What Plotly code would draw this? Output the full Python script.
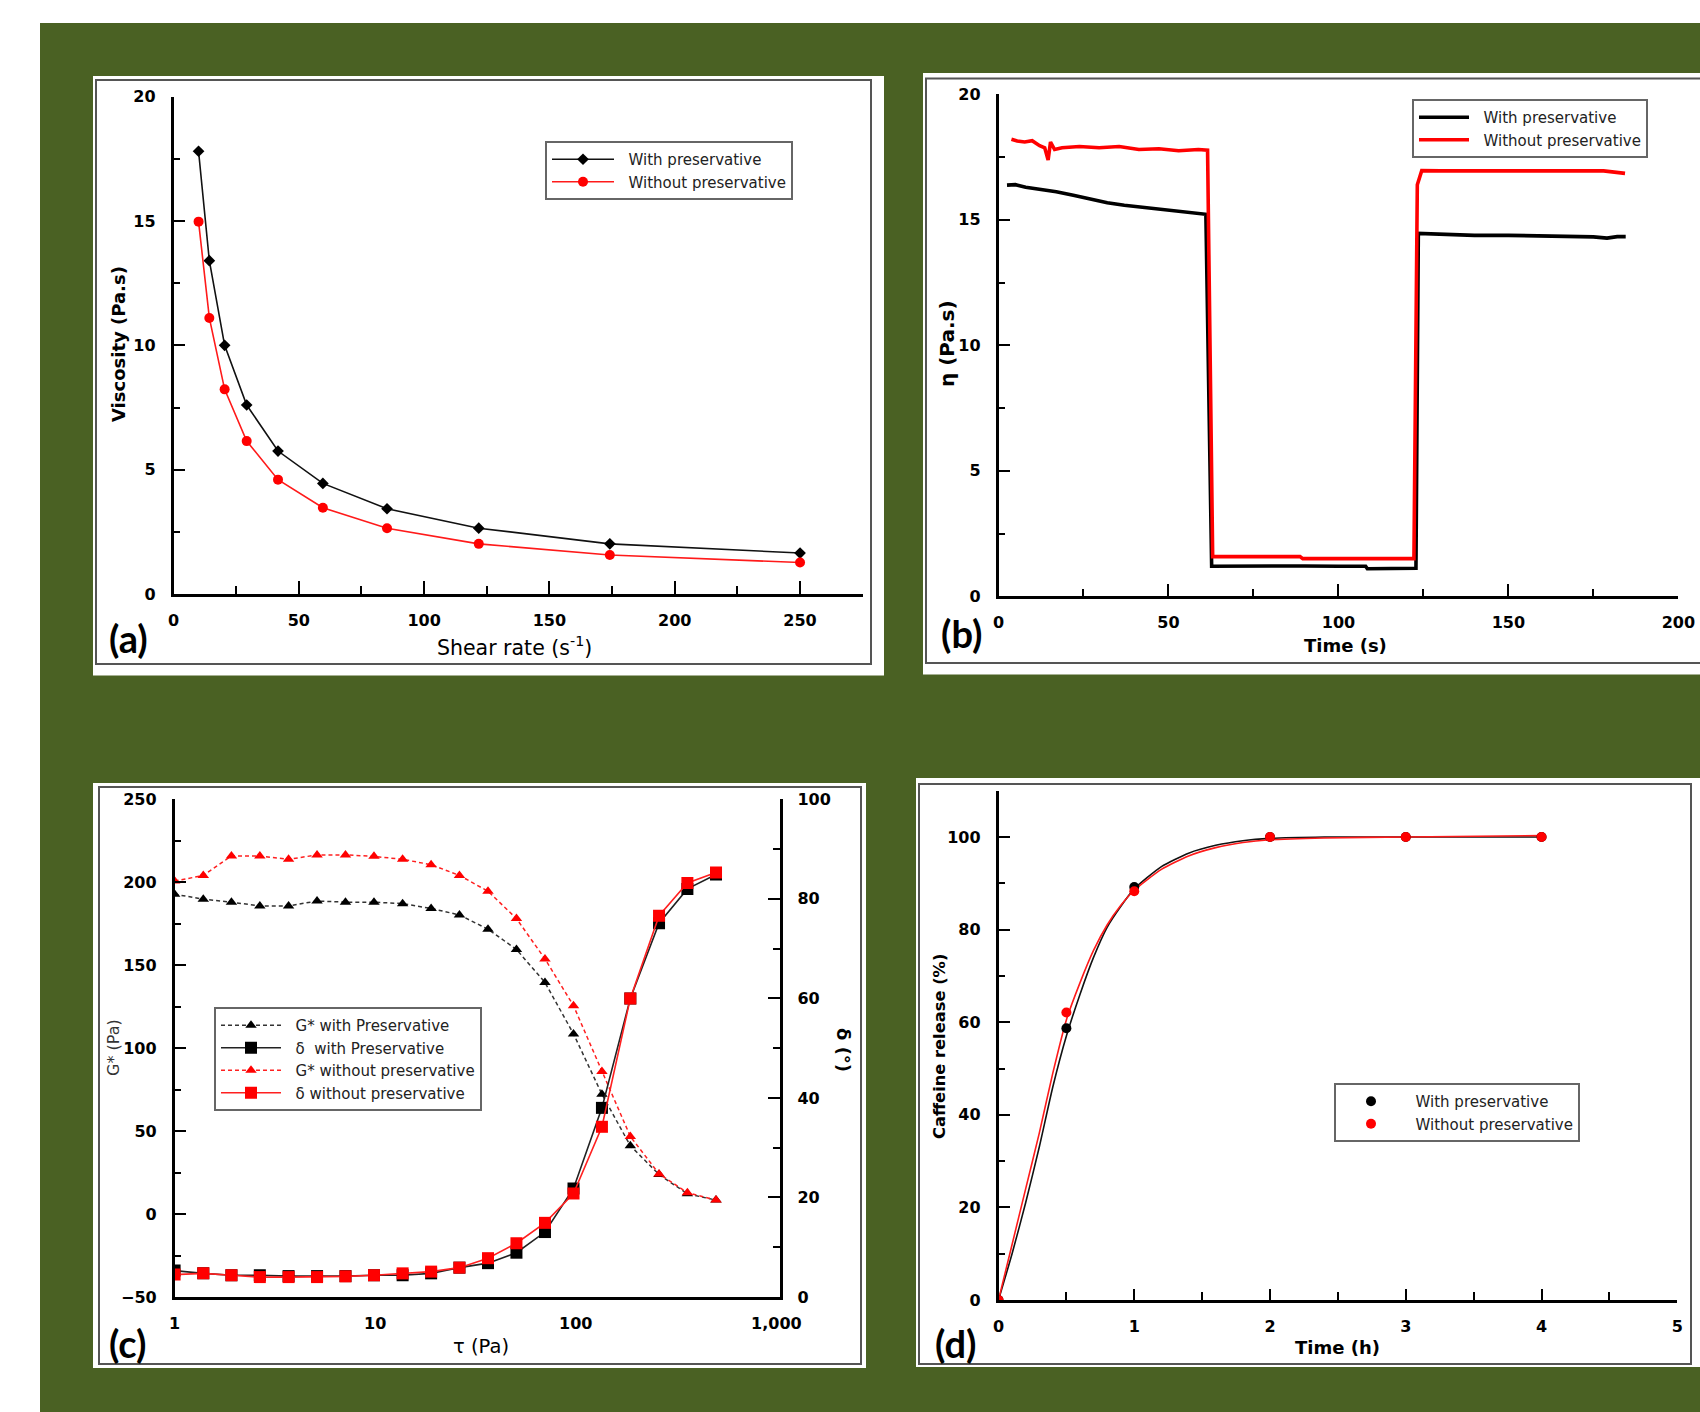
import plotly.graph_objects as go

W, H = 1700, 1412

# ---------------- data ----------------
# (a) viscosity vs shear rate
shear_rate = [10, 14.3, 20.4, 29.2, 41.7, 59.6, 85.2, 121.8, 174.1, 250]
visc_with = [17.8, 13.4, 10.0, 7.6, 5.75, 4.45, 3.43, 2.65, 2.02, 1.65]
visc_without = [14.97, 11.1, 8.23, 6.15, 4.6, 3.47, 2.65, 2.02, 1.57, 1.27]

# (b) thixotropy: viscosity vs time
t_with = [2.5, 5, 8, 12, 17, 22, 27, 32, 37, 42, 47, 52, 56, 59, 61, 62.7, 70, 80, 90, 100,
          108, 108.5, 115, 121.5, 122.8, 123.5, 130, 140, 150, 160, 170, 175, 179, 182, 184.5]
eta_with = [16.38, 16.4, 16.3, 16.22, 16.12, 15.98, 15.82, 15.68, 15.58, 15.5, 15.42, 15.35, 15.28,
            15.24, 15.22, 1.2, 1.21, 1.2, 1.21, 1.2, 1.2, 1.1, 1.1, 1.1, 1.12, 14.46, 14.42, 14.38,
            14.38, 14.35, 14.33, 14.32, 14.27, 14.33, 14.33]
t_without = [3.8, 5.5, 7.7, 9.9, 12.1, 13.6, 14.6, 15.3, 16.5, 18.7, 23.8, 29.6, 35.5, 41.3, 47.2,
             53, 58.8, 61.5, 63, 70, 80, 88.7, 89.5, 100, 110, 122.2, 123.2, 124.5, 130, 140, 150,
             160, 170, 178, 184.3]
eta_without = [18.21, 18.14, 18.1, 18.15, 17.95, 17.87, 17.38, 18.1, 17.8, 17.87, 17.92, 17.87, 17.92,
               17.8, 17.83, 17.75, 17.8, 17.77, 1.58, 1.58, 1.58, 1.58, 1.5, 1.5, 1.5, 1.5, 16.4,
               16.96, 16.95, 16.95, 16.94, 16.95, 16.93, 16.95, 16.85]

# (c) amplitude sweep
tau = [1, 1.39, 1.92, 2.66, 3.7, 5.13, 7.11, 9.86, 13.7, 19, 26.3, 36.5, 50.6, 70.2, 97.4,
       135, 187, 260, 360, 500]
gstar_with = [192.8, 189.8, 188, 185.7, 185.7, 188.7, 188, 188, 187.1, 184.2, 180.3, 171.7,
              159.5, 139.6, 108.6, 72.2, 41.2, 23.8, 12.2, 8.4]
gstar_without = [200.7, 204.1, 215.8, 215.8, 213.8, 216.5, 216.5, 215.6, 213.8, 210.6, 204.1,
                 194.6, 178.1, 153.8, 125.6, 86, 46.8, 24.2, 12.9, 8.4]
delta_with = [5.3, 4.75, 4.37, 4.37, 4.2, 4.2, 4.2, 4.37, 4.37, 4.75, 5.9, 6.8, 8.9, 13.05,
              21.8, 38.0, 60, 75.1, 82, 84.9]
delta_without = [4.5, 4.75, 4.37, 4.0, 4.0, 4.0, 4.15, 4.37, 4.75, 5.1, 5.9, 7.8, 10.8, 14.9,
                 20.8, 34.2, 60, 76.6, 83.2, 85.3]

rel_time = [0, 0.5, 1, 2, 3, 4]
rel_with = [0, 58.7, 89.2, 100, 100, 100]
rel_without = [0, 62.1, 88.3, 100, 100, 100]
fit_time = [0, 0.1, 0.2, 0.3, 0.4, 0.5, 0.6, 0.7, 0.8, 0.9, 1.0, 1.2, 1.4, 1.6, 1.8, 2.0, 2.4, 3, 4]
fit_with = [0, 10, 21, 33, 46, 57, 66, 74, 80.5, 85, 88.8, 93.6, 96.5, 98.2, 99.2, 99.7, 100, 100, 100]
fit_without = [0, 12, 24, 36, 49, 60.5, 68.5, 75.5, 81, 85.2, 88.5, 93, 95.9, 97.7, 98.8, 99.4,
               99.8, 100, 100.3]

# ---------------- helpers ----------------
def px(x):
    return x / W

def py(y):
    return 1 - y / H

GREEN = "#4a6123"
TICKFONT = dict(family="DejaVu Sans", size=16, color="black", weight="bold")
LEGFONT = dict(family="DejaVu Sans", size=15, color="#222")
SP = "\u00a0"

fig = go.Figure()

# (a)
fig.add_trace(go.Scatter(x=shear_rate, y=visc_with, mode="lines+markers", name=SP * 2 + "With preservative",
                         line=dict(color="#111", width=1.6),
                         marker=dict(symbol="diamond", size=9, color="black"),
                         xaxis="x", yaxis="y", legend="legend"))
fig.add_trace(go.Scatter(x=shear_rate, y=visc_without, mode="lines+markers", name=SP * 2 + "Without preservative",
                         line=dict(color="#ff1a1a", width=1.6),
                         marker=dict(symbol="circle", size=10, color="#ff0000"),
                         xaxis="x", yaxis="y", legend="legend"))

# (b)
fig.add_trace(go.Scatter(x=t_with, y=eta_with, mode="lines", name=SP * 2 + "With preservative",
                         line=dict(color="black", width=3.6),
                         xaxis="x2", yaxis="y2", legend="legend2"))
fig.add_trace(go.Scatter(x=t_without, y=eta_without, mode="lines", name=SP * 2 + "Without preservative",
                         line=dict(color="#ff0000", width=3.6),
                         xaxis="x2", yaxis="y2", legend="legend2"))

# (c)
fig.add_trace(go.Scatter(x=tau, y=gstar_with, mode="lines+markers", name=SP * 2 + "G* with Preservative",
                         line=dict(color="#333", width=1.5, dash="4px,3px"),
                         marker=dict(symbol="triangle-up", size=10, color="black"),
                         xaxis="x3", yaxis="y3", legend="legend3"))
fig.add_trace(go.Scatter(x=tau, y=delta_with, mode="lines+markers", name=SP * 2 + "δ  with Preservative",
                         line=dict(color="#222", width=1.6),
                         marker=dict(symbol="square", size=12, color="black"),
                         xaxis="x3", yaxis="y4", legend="legend3"))
fig.add_trace(go.Scatter(x=tau, y=gstar_without, mode="lines+markers", name=SP * 2 + "G* without preservative",
                         line=dict(color="#ff2020", width=1.5, dash="4px,3px"),
                         marker=dict(symbol="triangle-up", size=10, color="#ff0000"),
                         xaxis="x3", yaxis="y3", legend="legend3"))
fig.add_trace(go.Scatter(x=tau, y=delta_without, mode="lines+markers", name=SP * 2 + "δ without preservative",
                         line=dict(color="#ff2020", width=1.6),
                         marker=dict(symbol="square", size=12, color="#ff0000"),
                         xaxis="x3", yaxis="y4", legend="legend3"))

# (d)
fig.add_trace(go.Scatter(x=fit_time, y=fit_with, mode="lines", showlegend=False,
                         line=dict(color="#111", width=1.6, shape="spline", smoothing=0.6),
                         xaxis="x4", yaxis="y5"))
fig.add_trace(go.Scatter(x=fit_time, y=fit_without, mode="lines", showlegend=False,
                         line=dict(color="#ff1a1a", width=1.6, shape="spline", smoothing=0.6),
                         xaxis="x4", yaxis="y5"))
fig.add_trace(go.Scatter(x=rel_time, y=rel_with, mode="markers", name=SP * 2 + "With preservative",
                         marker=dict(symbol="circle", size=10, color="black"),
                         xaxis="x4", yaxis="y5", legend="legend4"))
fig.add_trace(go.Scatter(x=rel_time, y=rel_without, mode="markers", name=SP * 2 + "Without preservative",
                         marker=dict(symbol="circle", size=10, color="#ff0000"),
                         xaxis="x4", yaxis="y5", legend="legend4"))


def ax(domain, rng, dtick=None, minor_dtick=None, ticklen=12, minorlen=7, standoff=10, **kw):
    d = dict(domain=domain, range=rng, showline=True, linecolor="black", linewidth=2.5,
             showgrid=False, zeroline=False, ticks="inside", ticklen=ticklen, tickwidth=2,
             tickcolor="black", tickfont=TICKFONT, ticklabelstandoff=standoff, fixedrange=True,
             automargin=False)
    if dtick is not None:
        d.update(dtick=dtick, tick0=0)
    if minor_dtick is not None:
        d["minor"] = dict(dtick=minor_dtick, tick0=0, ticks="inside", ticklen=minorlen,
                          tickwidth=2, tickcolor="black", showgrid=False)
    d.update(kw)
    return d


shapes = []
# green background
shapes.append(dict(type="rect", xref="paper", yref="paper", x0=px(40), x1=1, y0=0, y1=py(23),
                   fillcolor=GREEN, line=dict(width=0), layer="below"))
# panels: white boxes + grey frames
panels = [
    ((93, 76, 884, 675.5), (96, 80, 871, 664)),
    ((923, 73, 1700, 674.5), (926, 78.5, 1712, 663)),
    ((93, 783, 866, 1368), (99, 787, 861, 1364)),
    ((916, 778, 1700, 1367), (919, 784, 1691, 1364)),
]
for (wx0, wy0, wx1, wy1), (bx0, by0, bx1, by1) in panels:
    shapes.append(dict(type="rect", xref="paper", yref="paper", x0=px(wx0), x1=px(wx1),
                       y0=py(wy1), y1=py(wy0), fillcolor="white", line=dict(width=0), layer="below"))
    shapes.append(dict(type="rect", xref="paper", yref="paper", x0=px(bx0), x1=px(bx1),
                       y0=py(by1), y1=py(by0), fillcolor="rgba(0,0,0,0)",
                       line=dict(color="#555", width=2), layer="below"))


def ann(text, x, y, size, bold=False, angle=0, family="DejaVu Sans", color="black"):
    return dict(text=text, x=px(x), y=py(y), xref="paper", yref="paper", showarrow=False,
                xanchor="center", yanchor="middle", textangle=angle,
                font=dict(family=family, size=size, color=color, weight="bold" if bold else "normal"))


annotations = [
    ann("Viscosity (Pa.s)", 119, 344, 18, bold=True, angle=-90),
    ann("Shear rate (s<sup>-1</sup>)", 514, 646, 20.5),
    ann("η (Pa.s)", 947, 343, 20, bold=True, angle=-90),
    ann("Time (s)", 1345, 645, 18, bold=True),
    ann("τ (Pa)", 481, 1346, 19.5),
    ann("G* (Pa)", 113, 1048, 16, angle=-90, color="#333"),
    ann("δ (°)", 844, 1050, 18, bold=True, angle=90),
    ann("Caffeine release (%)", 939, 1047, 16.3, bold=True, angle=-90),
    ann("Time (h)", 1337, 1347, 18, bold=True),
    ann("(a)", 128.5, 638, 38, bold=True, family="Lato"),
    ann("(b)", 961, 633, 38, bold=True, family="Lato"),
    ann("(c)", 127, 1343, 38, bold=True, family="Lato"),
    ann("(d)", 955, 1343, 38, bold=True, family="Lato"),
]


def leg(x, y, iw):
    return dict(x=px(x), y=py(y), xanchor="left", yanchor="top", bgcolor="white",
                bordercolor="#666", borderwidth=2, font=LEGFONT, itemwidth=iw,
                tracegroupgap=0, itemclick=False, itemdoubleclick=False)


fig.update_layout(
    width=W, height=H, autosize=False,
    margin=dict(l=0, r=0, t=0, b=0, pad=0, autoexpand=False),
    paper_bgcolor="white", plot_bgcolor="rgba(0,0,0,0)",
    showlegend=True,
    shapes=shapes, annotations=annotations,
    xaxis=ax([px(173.5), px(862.7)], [0, 275], 50, 25, anchor="y", ticklen=13, minorlen=8),
    yaxis=ax([py(594.1), py(96.5)], [0, 20], 5, 2.5, anchor="x", standoff=12),
    xaxis2=ax([px(998.5), px(1678.4)], [0, 200], 50, 25, anchor="y2", ticklen=13, minorlen=8),
    yaxis2=ax([py(596.3), py(94.3)], [0, 20], 5, 2.5, anchor="x2", standoff=12),
    xaxis3=ax([px(174.6), px(779.5)], [0, 3.0155], anchor="y3", type="log",
              tickvals=[1, 10, 100, 1000], ticktext=["1", "10", "100", "1,000"], ticks=""),
    yaxis3=ax([py(1297), py(799.3)], [-50, 250], 50, 25, anchor="x3", standoff=12),
    yaxis4=ax([py(1297), py(799.3)], [0, 100], 20, 10, anchor="x3", overlaying="y3", side="right",
              standoff=12),
    xaxis4=ax([px(998.5), px(1677.3)], [0, 5], 1, 0.5, anchor="y5", ticklen=11, minorlen=8),
    yaxis5=ax([py(1300), py(790.7)], [0, 110], None, 10, anchor="x4",
              tickvals=[0, 20, 40, 60, 80, 100], standoff=12),
    legend=leg(545, 141, 62),
    legend2=leg(1412, 99, 50),
    legend3=leg(214, 1007, 60),
    legend4=leg(1334, 1083, 60),
)

fig.write_html("out.html", config={"displayModeBar": False},
               post_script="document.body.style.margin='0';")
